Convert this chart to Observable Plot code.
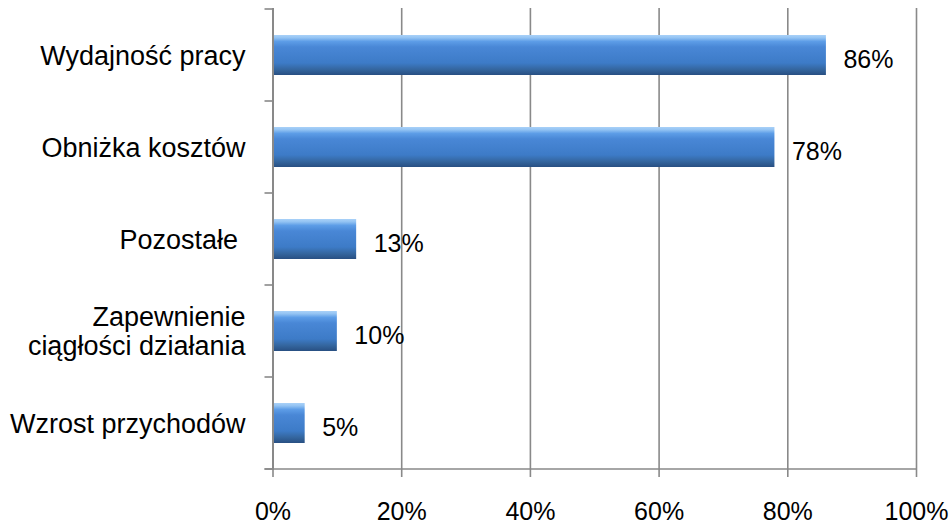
<!DOCTYPE html>
<html><head><meta charset="utf-8">
<script src="https://cdn.jsdelivr.net/npm/d3@7"></script>
<script src="https://cdn.jsdelivr.net/npm/@observablehq/plot@0.6"></script>
<style>body{margin:0;background:#fff} svg{display:block}</style>
</head><body><div id="chart"></div>
<script>
const categories = ["Wydajność pracy", "Obniżka kosztów", "Pozostałe\u00a0", "Zapewnienie\nciągłości działania", "Wzrost przychodów"];
const values = [0.86, 0.78, 0.13, 0.10, 0.05];
const xTicks = [0, 0.2, 0.4, 0.6, 0.8, 1];

const data = categories.map((c, i) => ({category: c, value: values[i]}));
const gray = "#898989";
const pct = d3.format(".0%");

const plot = Plot.plot({
  width: 951, height: 525,
  marginLeft: 272.5, marginRight: 35, marginTop: 8, marginBottom: 55,
  style: {fontFamily: "'Liberation Sans', Arial, sans-serif", background: "#fff", color: "#000"},
  x: {domain: [0, 1], label: null},
  y: {domain: categories, paddingInner: 0.57, paddingOuter: 0.285, label: null},
  marks: [
    Plot.gridX(xTicks.slice(1), {stroke: gray, strokeOpacity: 1, strokeWidth: 1.6}),
    Plot.barX(data, {x: "value", y: "category", fill: "url(#barGrad)", ariaLabel: "bars"}),
    Plot.text(data, {x: "value", y: "category", text: d => pct(d.value), textAnchor: "start", dx: 17, dy: 4, fontSize: 25, fill: "#000"}),
    Plot.axisX({ticks: xTicks, tickSize: 7, tickFormat: () => "", stroke: gray, strokeWidth: 1.6, label: null}),
    Plot.axisX({ticks: xTicks, tickSize: 0, tickPadding: 32, tickFormat: pct, fontSize: 25, label: null}),
    Plot.axisY({tickSize: 0, tickPadding: 27.5, fontSize: 27, lineHeight: 1.08, label: null}),
    Plot.ruleX([0], {stroke: gray, strokeWidth: 2})
  ]
});

const svg = d3.select(plot);
const defs = svg.insert("defs", ":first-child");
const g = defs.append("linearGradient").attr("id", "barGrad").attr("x1", 0).attr("y1", 0).attr("x2", 0).attr("y2", 1);
[[0, "#a9d1f8"], [0.07, "#93c3f3"], [0.16, "#5d9de7"], [0.3, "#4987d6"], [0.7, "#3d7bc7"], [0.86, "#34669f"], [1, "#284f82"]]
  .forEach(([o, c]) => g.append("stop").attr("offset", o).attr("stop-color", c));
const f = defs.append("filter").attr("id", "barShadow").attr("x", "-10%").attr("y", "-30%").attr("width", "130%").attr("height", "180%");
f.append("feDropShadow").attr("dx", 2).attr("dy", 4).attr("stdDeviation", 2).attr("flood-color", "#000").attr("flood-opacity", 0.3);
svg.select('g[aria-label="bars"]').attr("filter", "url(#barShadow)");

// category boundary ticks on the left axis and the bottom axis line
const sx = plot.scale("x"), sy = plot.scale("y");
const step = sy.step, bw = sy.bandwidth;
const bounds = categories.map(c => sy.apply(c) - (step - bw) / 2);
bounds.push(sy.apply(categories[categories.length - 1]) + bw + (step - bw) / 2);
const x0 = sx.apply(0), x1 = sx.apply(1);
const ag = svg.append("g").attr("stroke", gray).attr("stroke-width", 1.6);
bounds.forEach(b => ag.append("line").attr("x1", x0 - 8).attr("x2", x0).attr("y1", b).attr("y2", b));
ag.append("line").attr("x1", x0 - 8).attr("x2", x1).attr("y1", bounds[bounds.length - 1]).attr("y2", bounds[bounds.length - 1]);

document.getElementById("chart").appendChild(plot);
</script>
</body></html>
